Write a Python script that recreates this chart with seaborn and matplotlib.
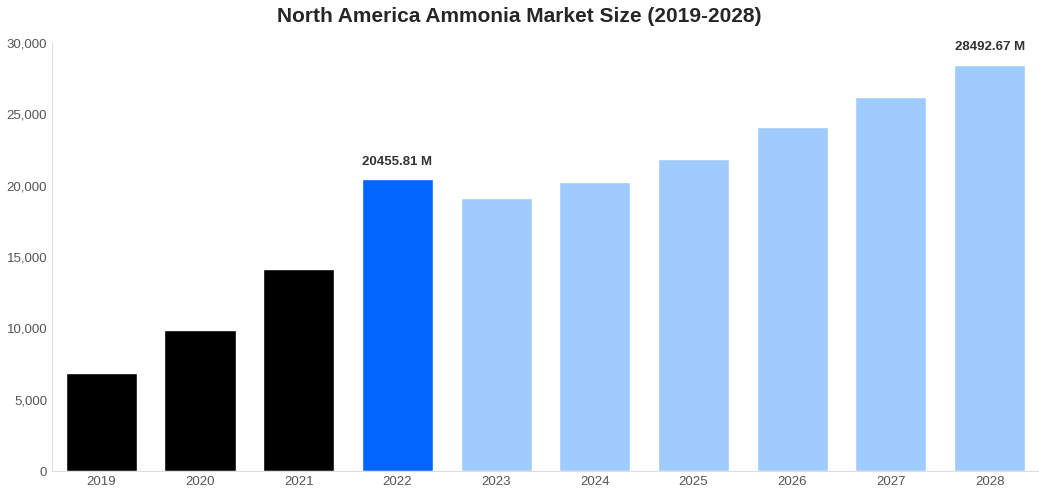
import matplotlib
matplotlib.use("Agg")
import matplotlib.pyplot as plt
import seaborn as sns
import pandas as pd

years = ["2019","2020","2021","2022","2023","2024","2025","2026","2027","2028"]
values = [6900, 9880, 14160, 20455.81, 19130, 20250, 21860, 24100, 26200, 28492.67]
colors = ["#000000"]*3 + ["#0066ff"] + ["#a0cbff"]*6
labels = {3: "20455.81 M", 9: "28492.67 M"}

sns.set_style("white")
plt.rcParams['font.family'] = ['Liberation Sans', 'DejaVu Sans']
fig = plt.figure(figsize=(10.39, 5.0), dpi=100)
ax = fig.add_axes([0.05, 0.058, 0.95, 0.856])
df = pd.DataFrame({"year": years, "value": values})
sns.barplot(data=df, x="year", y="value", hue="year", palette=colors, legend=False,
            width=0.72, ax=ax, saturation=1)
ax.set_ylim(0, 30000)
ax.set_xlim(-0.5, 9.5)
ax.set_yticks(range(0, 30001, 5000))
ax.set_yticklabels([f"{v:,}" for v in range(0, 30001, 5000)])
ax.tick_params(axis='both', colors='#555555', labelsize=9.5, length=0)
ax.set_xlabel(""); ax.set_ylabel("")
for s in ["top", "right"]:
    ax.spines[s].set_visible(False)
for s in ["left", "bottom"]:
    ax.spines[s].set_color("#dddddd")
for i, t in labels.items():
    ax.text(i, values[i] + 800, t, ha="center", va="bottom", fontsize=9.5, fontweight="bold", color="#333333")
fig.suptitle("North America Ammonia Market Size (2019-2028)", fontsize=15, fontweight="bold", y=0.985)
fig.savefig("out.png")
